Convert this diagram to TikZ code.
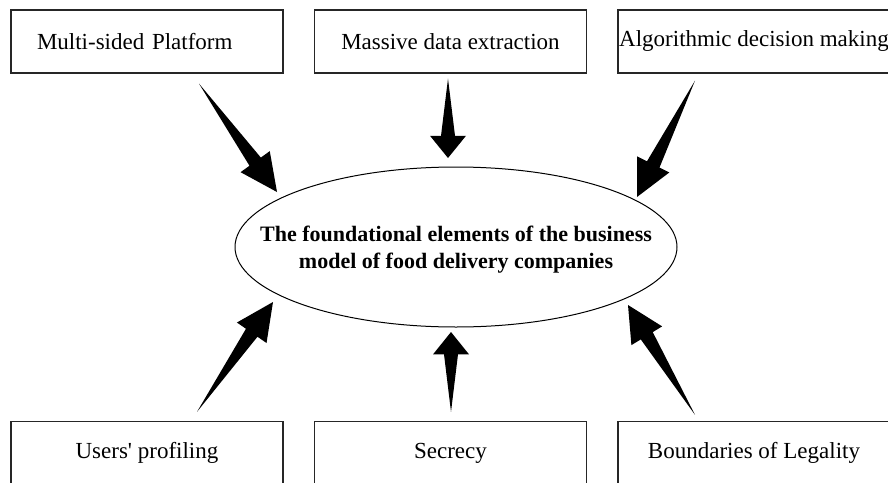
\documentclass[tikz,border=0pt]{standalone}
\usepackage{fontspec}
\setmainfont{Liberation Serif}
\usetikzlibrary{calc, positioning}

% tapered arrow from a tail point to a tip point
\newcommand\fatarrow[2]{%
  \fill (#1) -- ($(#2)!0.28!(#1)!3.5pt!90:(#1)$)
             -- ($(#2)!0.28!(#1)!9pt!90:(#1)$)
             -- (#2)
             -- ($(#2)!0.28!(#1)!9pt!-90:(#1)$)
             -- ($(#2)!0.28!(#1)!3.5pt!-90:(#1)$) -- cycle;}

\begin{document}
\begin{tikzpicture}[
                x=0.5pt, y=-0.5pt,
                box/.style={rectangle, draw=black!85, line width=0.65pt, minimum width=136pt,
                            minimum height=31.5pt, inner sep=0pt, font=\fontsize{11.5}{14}\selectfont},
                core/.style={inner sep=0pt, align=center,
                            font=\fontsize{11}{13.5}\selectfont\bfseries}
            ]

            \useasboundingbox (0,0) rectangle (888,482);

            % Centre
            \node[core] (core) at (456,250) {The foundational elements of the business \\ model of food delivery companies};
            \draw[line width=0.5pt] (456,247) ellipse [x radius=221, y radius=80];

            % Top boxes
            \node[box, text width=110pt, inner xsep=13pt, align=left] (top-1) at (147,41.5) {Multi-sided Platform};
            \node[box] (top-2) at (450.5,41.5) {Massive data extraction};
            \node[box] (top-3) at (754,41.5) {Algorithmic decision making};

            % Bottom boxes
            \node[box] (bot-1) at (147,453) {Users\textquotesingle\ profiling};
            \node[box] (bot-2) at (450.5,453) {Secrecy};
            \node[box] (bot-3) at (754,453) {Boundaries of Legality};

            % Arrow ends
            \coordinate (tail-1) at ($(top-1.south)+(52,10)$);
            \coordinate (tail-2) at ($(top-2.south)+(-2.5,5)$);
            \coordinate (tail-3) at ($(top-3.south)+(-59,7)$);
            \coordinate (tail-4) at ($(bot-1.north)+(50,-9)$);
            \coordinate (tail-5) at ($(bot-2.north)+(0.5,-9)$);
            \coordinate (tail-6) at ($(bot-3.north)+(-59,-6)$);

            \coordinate (tip-1) at ($(core.center)+(-179,-58)$);
            \coordinate (tip-2) at ($(core.center)+(-8,-92)$);
            \coordinate (tip-3) at ($(core.center)+(181,-53)$);
            \coordinate (tip-4) at ($(core.center)+(-183,52)$);
            \coordinate (tip-5) at ($(core.center)+(-5,82)$);
            \coordinate (tip-6) at ($(core.center)+(172,55)$);

            % Arrows into the centre
            \foreach \i in {1,...,6}
            \fatarrow{tail-\i}{tip-\i};

        \end{tikzpicture}
\end{document}
